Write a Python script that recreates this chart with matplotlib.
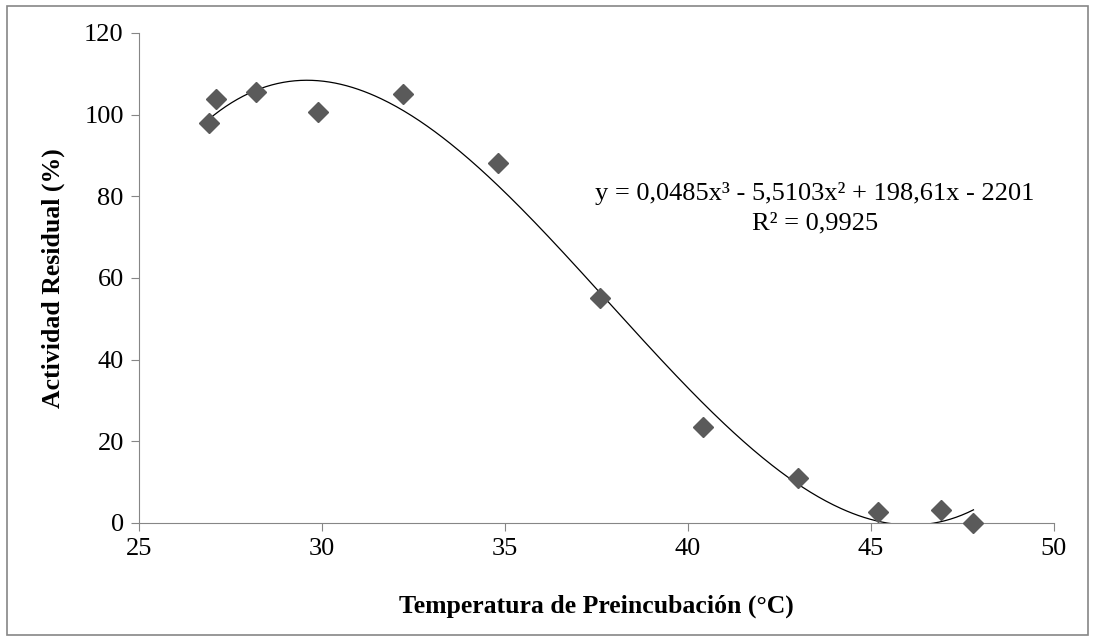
import numpy as np
import matplotlib
matplotlib.use("Agg")
import matplotlib.pyplot as plt
from matplotlib.patches import Rectangle

# data
temperatura = [26.9, 27.1, 28.2, 29.9, 32.2, 34.8, 37.6, 40.4, 43.0, 45.2, 46.9, 47.8]
actividad = [98.0, 103.8, 105.6, 100.6, 105.0, 88.2, 55.0, 23.4, 11.0, 2.6, 3.2, 0.0]
x_ticks = [25, 30, 35, 40, 45, 50]
y_ticks = [0, 20, 40, 60, 80, 100, 120]
ecuacion = "y = 0,0485x³ - 5,5103x² + 198,61x - 2201"
r2 = "R² = 0,9925"

plt.rcParams['font.family'] = ['Liberation Serif', 'DejaVu Serif']

fig = plt.figure(figsize=(10.93, 6.38), dpi=100)
ax = fig.add_axes([0.1272, 0.1803, 0.8371, 0.768])

# polynomial trendline (3rd order), as the spreadsheet does it
coef = np.polyfit(temperatura, actividad, 3)
xs = np.linspace(min(temperatura), max(temperatura), 400)
ax.plot(xs, np.polyval(coef, xs), color='black', lw=0.9)

ax.plot(temperatura, actividad, 'D', color='#5a5a5a', ms=10, mec='#5a5a5a',
        clip_on=False, zorder=3)

ax.set_xlim(25, 50)
ax.set_ylim(0, 120)
ax.set_xticks(x_ticks)
ax.set_yticks(y_ticks)
for s in ['top', 'right']:
    ax.spines[s].set_visible(False)
for s in ['left', 'bottom']:
    ax.spines[s].set_color('#868686')
ax.tick_params(direction='out', length=6, color='#868686', labelsize=19, pad=5)

ax.set_xlabel("Temperatura de Preincubación (°C)", fontsize=18.5, fontweight='bold',
              labelpad=25)
ax.set_ylabel("Actividad Residual (%)", fontsize=18.5, fontweight='bold', labelpad=14)

ax.text(43.47, 80.7, ecuacion, fontsize=19, ha='center', va='center')
ax.text(43.47, 73.3, r2, fontsize=19, ha='center', va='center')

fig.patches.append(Rectangle((0.006, 0.004), 0.989, 0.986, transform=fig.transFigure,
                             fill=False, edgecolor='#868686', lw=1.2))

fig.savefig("out.png", dpi=100)
